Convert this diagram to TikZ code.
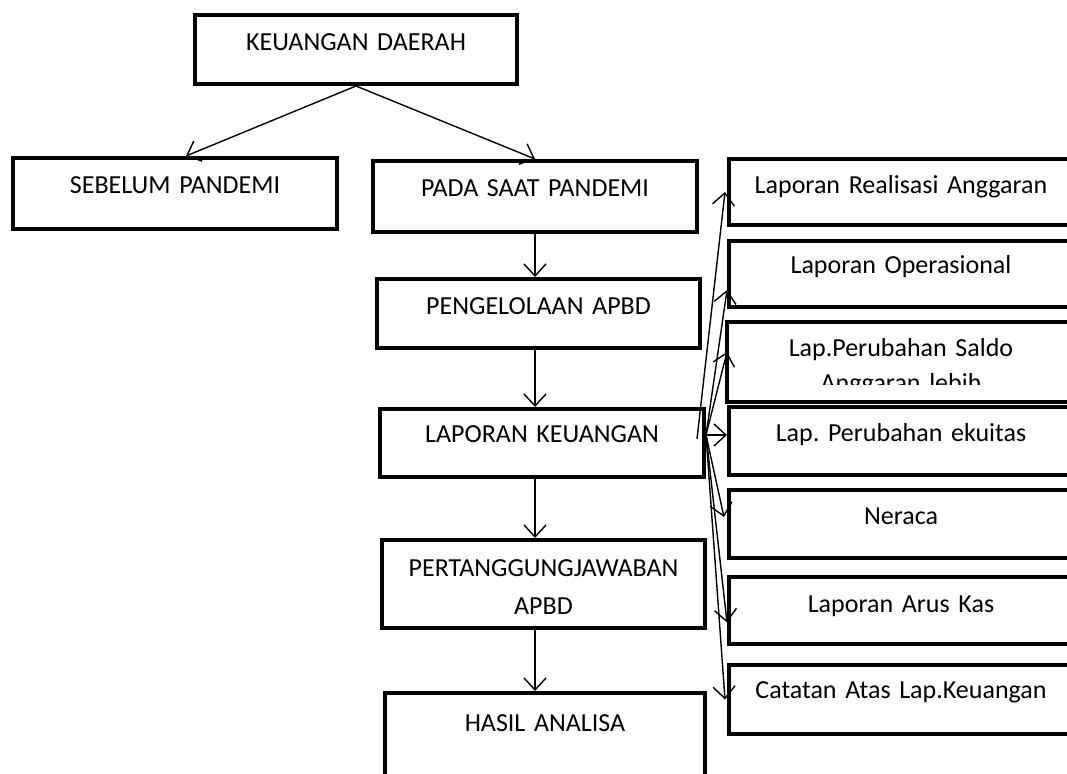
\documentclass[tikz,border=0pt]{standalone}
\usepackage{fontspec}
\setmainfont{Carlito}
\usetikzlibrary{arrows.meta}
\frenchspacing
\newcommand{\boxline}{2pt}
\newcommand{\arrline}{0.7pt}
\newcommand{\leftw}{162pt}
\newcommand{\rightw}{172pt}

\begin{document}
\begin{tikzpicture}[x=0.5pt, y=-0.5pt,
        box/.style={draw, line width=\boxline, inner sep=0pt, anchor=north west,
            align=center, font=\fontsize{13}{19}\selectfont},
        arr/.style={-{Straight Barb[length=6pt,width=11pt]}, line width=\arrline}]
                %\draw[help lines] (0,0) grid (1067,774);
                \path[fill=white, use as bounding box] (0,0) rectangle (1067,774);

                % top and left column
                \node[box, text width=161pt, text height=18pt, text depth=16.5pt] (kd) at (193,13) {KEUANGAN DAERAH};
                \node[box, text width=\leftw, text height=18pt, text depth=17.5pt] (sp) at (11,156) {SEBELUM PANDEMI};
                \node[box, text width=\leftw, text height=18pt, text depth=17.5pt] (ps) at (371,159) {PADA SAAT PANDEMI};
                \node[box, text width=161.5pt, text height=18pt, text depth=16.5pt] (pa) at (375,277) {PENGELOLAAN APBD};
                \node[box, text width=\leftw, text height=17pt, text depth=17pt] (lk) at (378,407) {LAPORAN KEUANGAN};
                \node[box, text width=161.5pt, text height=18.5pt, text depth=25.5pt] (pj) at (380,538) {PERTANGGUNGJAWABAN\\APBD};
                \node[box, text width=160pt, text height=19.5pt, text depth=30pt] (ha) at (383,691) {HASIL ANALISA};

                % right column
                \node[box, text width=\rightw, text height=17.5pt, text depth=15.5pt] (lra) at (727,157) {Laporan Realisasi Anggaran};
                \node[box, text width=\rightw, text height=16.5pt, text depth=16.5pt] (lo) at (727,239) {Laporan Operasional};
                \begin{scope}
                    \clip (700,300) rectangle (1100,385);
                    \node[box, draw=none, text width=\rightw, text height=16.5pt, text depth=21.5pt,
                        font=\fontsize{13}{17.5}\selectfont] (ls) at (727,322) {Lap.Perubahan Saldo\\Anggaran lebih};
                \end{scope}
                \draw[line width=\boxline] (ls.north west) rectangle (ls.south east);
                \node[box, text width=\rightw, text height=17.5pt, text depth=16.5pt] (le) at (727,405) {Lap. Perubahan ekuitas};
                \node[box, text width=\rightw, text height=17.5pt, text depth=16.5pt] (ne) at (727,488) {Neraca};
                \node[box, text width=\rightw, text height=18pt, text depth=15.5pt] (lak) at (727,575) {Laporan Arus Kas};
                \node[box, text width=\rightw, text height=17pt, text depth=17.5pt] (ca) at (727,663) {Catatan Atas Lap.Keuangan};

                % arrows down the middle
                \draw[arr] (kd.south) -- ([xshift=5.5pt]sp.north);
                \draw[arr] (kd.south) -- (ps.north);
                \draw[arr] (ps.south) -- (ps.south |- pa.north);
                \draw[arr] (ps.south |- pa.south) -- (ps.south |- lk.north);
                \draw[arr] (ps.south |- lk.south) -- (ps.south |- pj.north);
                \draw[arr] (ps.south |- pj.south) -- (ps.south |- ha.north);

                % arrows out of the report box
                \draw[arr] ([xshift=-4.5pt,yshift=2pt]lk.east) -- ([xshift=-1pt]lra.west);
                \draw[arr] ([yshift=4pt]lk.east) -- ([yshift=-8pt]lo.west);
                \draw[arr] ([yshift=4pt]lk.east) -- ([yshift=5pt]ls.west);
                \draw[arr] ([yshift=4pt]lk.east) -- ([yshift=3pt]le.west);
                \draw[arr] ([yshift=4pt]lk.east) -- ([xshift=-1.5pt,yshift=3.5pt]ne.west);
                \draw[arr] ([yshift=4pt]lk.east) -- ([yshift=-6pt]lak.west);
                \draw[arr] ([yshift=4pt]lk.east) -- ([xshift=-1pt]ca.west);

        \end{tikzpicture}
\end{document}
